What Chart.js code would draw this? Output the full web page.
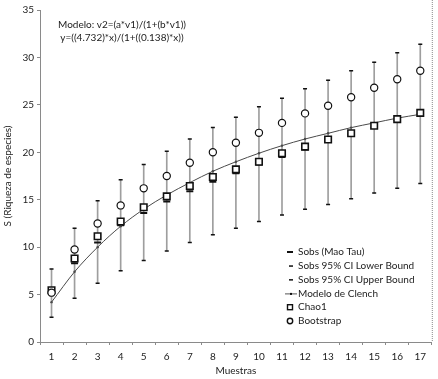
<!DOCTYPE html>
<html>
<head>
<meta charset="utf-8">
<script src="https://cdn.jsdelivr.net/npm/chart.js@4.4.0/dist/chart.umd.min.js"></script>
<style>
html, body { margin: 0; padding: 0; background: #fff; }
#wrap { width: 438px; height: 379px; }
</style>
</head>
<body>
<div id="wrap"><canvas id="grafico"></canvas></div>
<script>
const muestras = ['1','2','3','4','5','6','7','8','9','10','11','12','13','14','15','16','17'];
const sobs = [5.1, 8.3, 10.5, 12.3, 13.6, 14.8, 15.9, 16.9, 17.8, 18.7, 19.5, 20.3, 21.1, 21.9, 22.6, 23.4, 24.0];
const ciInferior = [2.6, 4.6, 6.2, 7.5, 8.6, 9.6, 10.5, 11.3, 12.0, 12.7, 13.4, 14.0, 14.5, 15.1, 15.7, 16.2, 16.7];
const ciSuperior = [7.7, 12.0, 14.9, 17.1, 18.7, 20.1, 21.4, 22.6, 23.7, 24.8, 25.7, 26.7, 27.6, 28.6, 29.5, 30.5, 31.4];
const clench = [4.2, 7.4, 10.0, 12.2, 14.0, 15.5, 16.8, 18.0, 19.0, 19.9, 20.7, 21.4, 22.0, 22.6, 23.1, 23.6, 24.0];
const chao1 = [5.45, 8.8, 11.15, 12.7, 14.2, 15.35, 16.45, 17.4, 18.2, 19.0, 19.9, 20.6, 21.35, 22.0, 22.8, 23.5, 24.15];
const bootstrap = [5.2, 9.75, 12.5, 14.4, 16.2, 17.5, 18.9, 20.0, 21.0, 22.05, 23.1, 24.1, 24.9, 25.8, 26.8, 27.7, 28.6];
const ticksY = [0, 5, 10, 15, 20, 25, 30, 35];

const leyenda = ['Sobs (Mao Tau)', 'Sobs 95% CI Lower Bound', 'Sobs 95% CI Upper Bound', 'Modelo de Clench', 'Chao1', 'Bootstrap'];
const modeloTexto = ['Modelo: v2=(a*v1)/(1+(b*v1))', 'y=((4.732)*x)/(1+((0.138)*x))'];

const FUENTE = 'Lato, "Open Sans", sans-serif';
const GRIS_EJE = '#8a8a8a';

const extras = {
    id: 'extras',
    afterDraw(chart) {
        const { ctx, chartArea } = chart;
        ctx.save();
        // borde derecho punteado
        ctx.strokeStyle = GRIS_EJE;
        ctx.lineWidth = 1;
        ctx.setLineDash([1, 1]);
        ctx.beginPath();
        ctx.moveTo(chartArea.right + 0.5, 0);
        ctx.lineTo(chartArea.right + 0.5, chartArea.bottom);
        ctx.stroke();
        ctx.setLineDash([]);

        // texto del modelo
        ctx.fillStyle = '#222';
        ctx.font = '10px ' + FUENTE;
        ctx.textAlign = 'center';
        ctx.textBaseline = 'middle';
        ctx.fillText(modeloTexto[0], 122, 25);
        ctx.fillText(modeloTexto[1], 122, 38);

        // leyenda
        const x0 = 298, y0 = 252, dy = 13.8;
        ctx.textAlign = 'left';
        leyenda.forEach((txt, i) => {
            const y = y0 + i * dy;
            ctx.fillStyle = '#222';
            ctx.fillText(txt, x0, y);
            ctx.strokeStyle = '#111';
            ctx.fillStyle = '#111';
            if (i === 0) {
                ctx.fillRect(287, y - 1, 6, 2);
            } else if (i < 3) {
                ctx.fillRect(289, y - 0.5, 4, 1.5);
            } else if (i === 3) {
                ctx.strokeStyle = '#555';
                ctx.lineWidth = 1;
                ctx.beginPath();
                ctx.moveTo(285, y + 0.5);
                ctx.lineTo(297, y + 0.5);
                ctx.stroke();
                ctx.fillRect(290, y - 0.5, 2, 2);
            } else if (i === 4) {
                ctx.lineWidth = 1.4;
                ctx.strokeRect(287.5, y - 2.5, 5, 5);
            } else {
                ctx.lineWidth = 1.4;
                ctx.beginPath();
                ctx.arc(290, y, 2.7, 0, Math.PI * 2);
                ctx.stroke();
            }
        });
        ctx.restore();
    }
};

const ctx = document.getElementById('grafico');
new Chart(ctx, {
    data: {
        labels: muestras,
        datasets: [
            {
                type: 'bar',
                label: 'IC 95%',
                data: muestras.map((m, i) => [ciInferior[i], ciSuperior[i]]),
                backgroundColor: '#9e9e9e',
                borderWidth: 0,
                barThickness: 1,
                order: 10
            },
            {
                type: 'line',
                label: leyenda[1],
                data: ciInferior,
                showLine: false,
                pointStyle: 'line',
                pointRadius: 2,
                borderColor: '#111',
                borderWidth: 1.5,
                order: 9
            },
            {
                type: 'line',
                label: leyenda[2],
                data: ciSuperior,
                showLine: false,
                pointStyle: 'line',
                pointRadius: 2,
                borderColor: '#111',
                borderWidth: 1.5,
                order: 9
            },
            {
                type: 'line',
                label: leyenda[0],
                data: sobs,
                showLine: false,
                pointStyle: 'line',
                pointRadius: 3.5,
                borderColor: '#111',
                borderWidth: 2,
                order: 8
            },
            {
                type: 'line',
                label: leyenda[3],
                data: clench,
                borderColor: '#4a4a4a',
                borderWidth: 1,
                cubicInterpolationMode: 'monotone',
                pointRadius: 1.2,
                pointBackgroundColor: '#4a4a4a',
                pointBorderWidth: 0,
                order: 7
            },
            {
                type: 'line',
                label: leyenda[4],
                data: chao1,
                showLine: false,
                pointStyle: 'rect',
                pointRadius: 4.6,
                borderColor: '#111',
                backgroundColor: '#fff',
                borderWidth: 1.6,
                order: 6
            },
            {
                type: 'line',
                label: leyenda[5],
                data: bootstrap,
                showLine: false,
                pointStyle: 'circle',
                pointRadius: 3.6,
                borderColor: '#111',
                backgroundColor: '#fff',
                borderWidth: 1.2,
                order: 5
            }
        ]
    },
    options: {
        responsive: true,
        maintainAspectRatio: false,
        animation: false,
        events: [],
        layout: { padding: { top: 10, right: 5, left: 2, bottom: 0 } },
        plugins: {
            legend: { display: false },
            tooltip: { enabled: false }
        },
        scales: {
            x: {
                type: 'category',
                offset: true,
                grid: { offset: true, drawOnChartArea: false, drawTicks: true, tickLength: 3, color: GRIS_EJE },
                border: { display: true, color: GRIS_EJE, width: 1, dash: [1, 1] },
                ticks: { color: '#222', font: { family: FUENTE, size: 10 }, padding: 6, maxRotation: 0, autoSkip: false },
                title: { display: true, text: 'Muestras', color: '#222', font: { family: FUENTE, size: 10 }, padding: { top: 2, bottom: 2 } },
                afterFit: s => { s.height = 37; }
            },
            y: {
                min: ticksY[0],
                max: ticksY[ticksY.length - 1],
                ticks: { stepSize: 5, color: '#222', font: { family: FUENTE, size: 10 }, padding: 3 },
                grid: { drawOnChartArea: false, drawTicks: true, tickLength: 3, color: GRIS_EJE },
                border: { display: true, color: GRIS_EJE, width: 1, dash: [1, 1] },
                title: { display: true, text: 'S (Riqueza de especies)', color: '#222', font: { family: FUENTE, size: 10 }, padding: { top: 0, bottom: 0 } },
                afterFit: s => { s.width = 38; }
            }
        }
    },
    plugins: [extras]
});
</script>
</body>
</html>
